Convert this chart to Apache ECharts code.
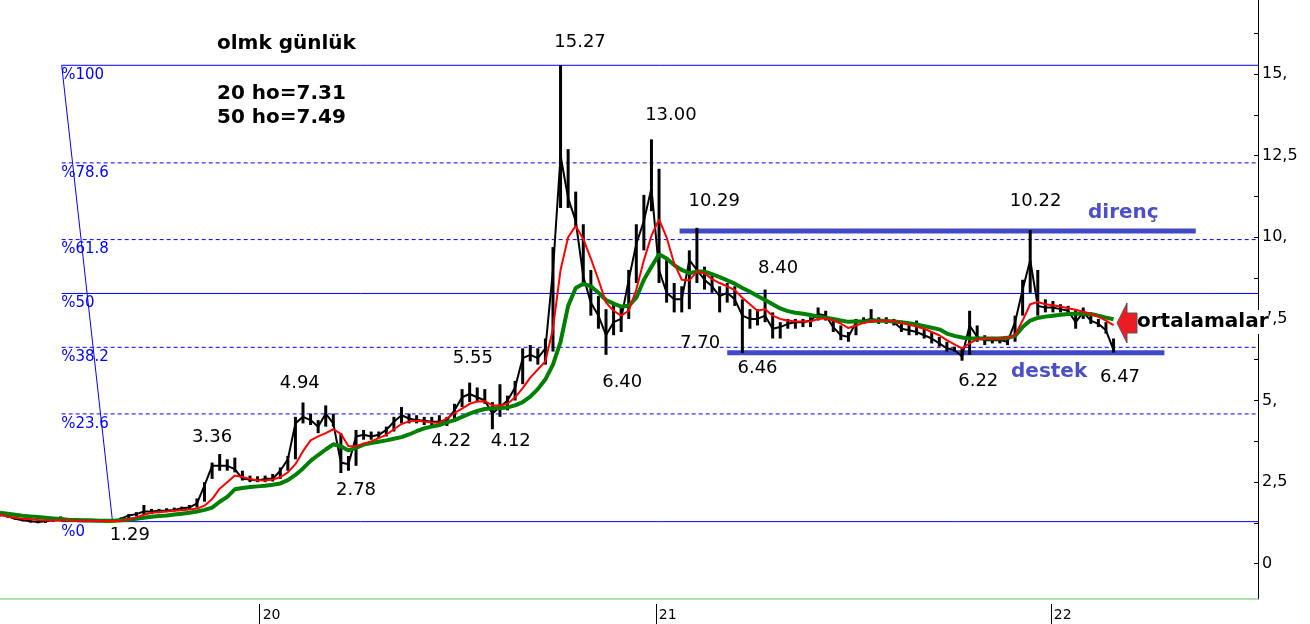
<!DOCTYPE html>
<html>
<head>
<meta charset="utf-8">
<script src="https://cdn.jsdelivr.net/npm/echarts@6/dist/echarts.min.js"></script>
<style>html,body{margin:0;padding:0;background:#fff}#c{width:1310px;height:624px}</style>
</head>
<body>
<div id="c"></div>
<script>
// ---- weekly bars (first week starts at startDate, one bar per week) ----
const startDate = '2019-05-06';
const axisEnd = '2022-07-11T12:00:00Z';

const high = [
1.55,1.52,1.45,1.40,1.38,1.35,1.35,1.38,1.45,1.36,
1.35,1.34,1.34,1.33,1.33,1.32,1.42,1.52,1.58,1.80,
1.68,1.68,1.70,1.72,1.75,1.80,2.00,2.50,3.10,3.36,
3.20,3.25,2.85,2.70,2.68,2.70,2.75,2.95,3.30,4.50,
4.94,4.60,4.40,4.85,4.60,4.00,3.30,4.10,4.10,4.05,
4.05,4.20,4.50,4.80,4.60,4.55,4.50,4.50,4.55,4.50,
4.90,5.35,5.55,5.40,5.35,4.95,5.50,5.15,5.60,6.60,
6.70,6.60,6.90,9.70,15.27,12.70,11.40,10.40,9.00,8.20,
7.80,8.00,7.90,9.00,10.40,11.30,13.00,12.10,9.40,8.60,
8.50,9.60,10.29,9.10,8.90,8.50,8.60,8.50,8.10,7.80,
7.80,8.40,7.70,7.40,7.50,7.50,7.50,7.55,7.85,7.75,
7.45,7.30,7.10,7.50,7.55,7.80,7.55,7.55,7.50,7.40,
7.35,7.45,7.20,7.10,6.95,6.80,6.65,6.60,7.75,7.30,
7.00,6.95,6.95,6.95,7.60,8.70,10.22,9.00,8.10,8.05,
7.95,7.90,7.80,7.85,7.60,7.50,7.40,6.90
];
const low = [
1.45,1.42,1.35,1.30,1.26,1.24,1.25,1.28,1.30,1.28,
1.28,1.28,1.28,1.28,1.28,1.29,1.30,1.38,1.45,1.50,
1.52,1.55,1.58,1.60,1.62,1.65,1.72,1.90,2.60,2.85,
2.85,2.80,2.55,2.50,2.50,2.50,2.52,2.60,2.85,3.20,
4.30,4.25,4.00,4.20,4.20,2.78,2.85,3.00,3.80,3.80,
3.85,3.90,4.05,4.30,4.30,4.30,4.25,4.25,4.22,4.22,
4.35,4.80,4.95,4.95,4.90,4.12,4.50,4.70,5.00,5.50,
6.20,6.10,6.10,6.50,10.90,10.90,10.30,8.50,7.60,7.20,
6.40,7.00,7.10,7.50,8.60,9.60,10.80,8.60,8.00,7.70,
7.70,7.80,8.60,8.40,8.30,7.70,8.00,7.90,6.46,7.20,
7.30,7.40,6.90,6.90,7.20,7.20,7.25,7.25,7.45,7.45,
7.10,6.85,6.80,7.00,7.35,7.40,7.35,7.35,7.30,7.10,
7.00,7.00,6.90,6.75,6.65,6.50,6.50,6.22,6.40,6.80,
6.70,6.75,6.75,6.70,6.80,7.60,8.30,7.60,7.70,7.70,
7.70,7.65,7.20,7.50,7.35,7.25,7.05,6.47
];
const close = [
1.50,1.45,1.38,1.33,1.30,1.28,1.30,1.33,1.33,1.32,
1.31,1.30,1.31,1.30,1.30,1.30,1.38,1.48,1.52,1.60,
1.60,1.62,1.63,1.65,1.70,1.72,1.85,2.40,3.00,3.00,
3.00,2.90,2.60,2.58,2.55,2.60,2.60,2.85,3.20,4.30,
4.50,4.40,4.20,4.60,4.30,3.10,3.05,3.90,3.95,3.90,
3.95,4.10,4.35,4.55,4.45,4.40,4.38,4.35,4.35,4.40,
4.70,5.10,5.20,5.10,5.00,4.60,4.80,5.00,5.40,6.30,
6.40,6.30,6.60,9.00,12.50,11.20,10.50,8.80,8.00,7.60,
7.00,7.40,7.50,8.70,9.80,10.50,11.50,9.00,8.30,8.10,
8.10,9.30,9.00,8.70,8.50,8.20,8.30,8.10,7.60,7.50,
7.50,7.60,7.20,7.25,7.35,7.40,7.40,7.45,7.65,7.60,
7.25,7.00,6.95,7.40,7.45,7.50,7.45,7.45,7.40,7.20,
7.15,7.10,7.00,6.90,6.75,6.60,6.55,6.35,7.30,6.95,
6.85,6.85,6.85,6.80,7.40,8.40,9.30,7.90,7.85,7.85,
7.80,7.75,7.40,7.70,7.45,7.35,7.15,6.55
];
const ma20 = [
1.50,1.45,1.41,1.38,1.36,1.34,1.33,1.32,1.33,1.33,
1.32,1.32,1.31,1.31,1.31,1.31,1.32,1.36,1.42,1.50,
1.56,1.58,1.60,1.62,1.64,1.66,1.69,1.78,1.98,2.30,
2.50,2.70,2.66,2.60,2.56,2.55,2.58,2.65,2.80,3.05,
3.45,3.78,3.90,4.00,4.12,3.98,3.60,3.60,3.68,3.75,
3.85,3.95,4.12,4.28,4.36,4.38,4.36,4.33,4.32,4.45,
4.62,4.75,4.90,4.97,4.98,4.85,4.85,4.90,5.10,5.38,
5.70,5.95,6.20,7.20,9.00,10.00,10.35,9.95,9.35,8.70,
8.00,7.75,7.60,7.75,8.40,9.30,10.05,10.55,10.00,9.20,
8.70,8.68,8.95,8.90,8.72,8.60,8.50,8.38,8.15,7.95,
7.75,7.80,7.60,7.50,7.45,7.42,7.42,7.42,7.50,7.52,
7.45,7.36,7.22,7.30,7.38,7.42,7.45,7.45,7.42,7.38,
7.32,7.27,7.20,7.10,7.00,6.85,6.72,6.60,6.75,6.88,
6.90,6.90,6.90,6.92,7.00,7.45,7.95,8.02,7.95,7.92,
7.88,7.83,7.78,7.72,7.65,7.57,7.45,7.31
];
const ma50 = [
1.56,1.53,1.50,1.47,1.45,1.43,1.41,1.39,1.37,1.35,
1.34,1.33,1.33,1.32,1.32,1.32,1.33,1.35,1.38,1.41,
1.44,1.46,1.48,1.51,1.53,1.56,1.60,1.65,1.72,1.90,
2.05,2.28,2.32,2.35,2.37,2.39,2.42,2.46,2.56,2.72,
2.92,3.15,3.33,3.50,3.66,3.60,3.47,3.55,3.65,3.70,
3.74,3.78,3.83,3.88,3.96,4.06,4.15,4.20,4.25,4.33,
4.40,4.50,4.60,4.68,4.74,4.76,4.77,4.79,4.85,4.95,
5.12,5.35,5.65,6.10,6.80,7.90,8.45,8.58,8.50,8.30,
8.08,7.97,7.88,7.90,8.15,8.70,9.10,9.48,9.35,9.15,
9.00,8.90,8.95,8.95,8.87,8.78,8.68,8.58,8.45,8.33,
8.20,8.08,7.95,7.82,7.74,7.69,7.66,7.62,7.57,7.54,
7.50,7.45,7.41,7.42,7.42,7.44,7.45,7.44,7.42,7.40,
7.37,7.33,7.28,7.23,7.18,7.05,6.98,6.93,6.90,6.90,
6.90,6.90,6.90,6.92,6.98,7.25,7.45,7.53,7.57,7.60,
7.63,7.65,7.66,7.66,7.65,7.60,7.54,7.49
];

// ---- axis ticks ----
const yearTicks = ['2020-01-01','2021-01-01','2022-01-01'];
const yearLabels = ['20','21','22'];
const yTicks = [0,2.5,5,7.5,10,12.5,15,17.5];
const yTickLabels = ['0','2,5','5,','7,5','10,','12,5','15,','17,5'];
const yMinorTicks = [0,1.25,2.5,3.75,5,6.25,7.5,8.75,10,11.25,12.5,13.75,15,16.25];

// ---- Fibonacci retracement ----
const fibStart = '2019-07-02';
const fibLowDate = '2019-08-18';
const fibLevels = [15.27,12.28,9.93,8.28,6.63,4.59,1.29];
const fibNames = ['%100','%78.6','%61.8','%50','%38.2','%23.6','%0'];
const fibDashed = [false,true,true,false,true,true,false];

// ---- support / resistance ----
const resistance = ['2021-01-23','2022-05-15',10.19];
const support = ['2021-03-08','2022-04-16',6.46];
const lowMarker = ['2019-08-09','2019-08-23',1.29];

// ---- price annotations [date, value, text] ----
const priceLabels = [
['2020-10-23',15.98,'15.27'],
['2021-01-15',13.74,'13.00'],
['2021-02-24',11.11,'10.29'],
['2021-12-18',11.11,'10.22'],
['2021-04-24',9.06,'8.40'],
['2021-02-11',6.76,'7.70'],
['2021-04-05',6.00,'6.46'],
['2020-12-01',5.57,'6.40'],
['2021-10-26',5.60,'6.22'],
['2022-03-06',5.72,'6.47'],
['2020-07-16',6.30,'5.55'],
['2020-02-07',5.54,'4.94'],
['2019-11-18',3.88,'3.36'],
['2020-06-26',3.76,'4.22'],
['2020-08-20',3.76,'4.12'],
['2020-03-30',2.26,'2.78'],
['2019-09-03',0.88,'1.29']
];

const DAY = 86400000;
const D = s => Date.parse(s.length > 10 ? s : s + 'T00:00:00Z');
const T0 = D(startDate);
const TEND = D(axisEnd);
const dates = high.map((_, i) => T0 + i * 7 * DAY);
const yearTimes = yearTicks.map(D);
const FONT = 'DejaVu Sans';
const BLUE = '#0000ff';
const SR = '#4249c6';

function segment(name, p1, p2, color, width, type, z) {
  return { type: 'line', name: name, silent: true, symbol: 'none', z: z || 1,
           data: [p1, p2], lineStyle: { color: color, width: width, type: type },
           itemStyle: { color: color }, emphasis: { disabled: true } };
}

const fibSeries = fibLevels.map((lv, i) => {
  const s = segment('fib' + i, [D(fibStart), lv], [TEND, lv], BLUE, 1, fibDashed[i] ? [4, 3] : 'solid', 1);
  s.markPoint = { silent: true, animation: false,
    data: [{ coord: [D(fibStart), lv], symbol: 'rect', symbolSize: 1, itemStyle: { color: 'rgba(0,0,0,0)' },
      label: { show: true, position: 'right', distance: 0, offset: [-1, 10], formatter: fibNames[i],
               color: BLUE, fontSize: 15, fontFamily: FONT } }] };
  return s;
});

const extraSeries = [
  segment('fibDiag', [D(fibStart), fibLevels[0]], [D(fibLowDate), fibLevels[6]], BLUE, 1, 'solid', 1),
  segment('direnc', [D(resistance[0]), resistance[2]], [D(resistance[1]), resistance[2]], SR, 5, 'solid', 1),
  segment('destek', [D(support[0]), support[2]], [D(support[1]), support[2]], SR, 5, 'solid', 1),
  segment('lowMark', [D(lowMarker[0]), lowMarker[2]], [D(lowMarker[1]), lowMarker[2]], '#ffee00', 3, 'solid', 1)
];

const chart = echarts.init(document.getElementById('c'));
chart.setOption({
  animation: false,
  backgroundColor: '#fff',
  grid: { left: 0, right: 52, top: 0, bottom: 25 },
  xAxis: [
    { type: 'value', min: T0, max: TEND, scale: true,
      axisLine: { show: true, onZero: false, lineStyle: { color: '#93d893', width: 1.5 } },
      axisTick: { show: false }, axisLabel: { show: false }, splitLine: { show: false } },
    { type: 'value', min: T0, max: TEND, scale: true, position: 'bottom', offset: 5,
      axisLine: { show: false, onZero: false },
      axisTick: { show: true, customValues: yearTimes, length: 20, lineStyle: { color: '#000', width: 1 } },
      axisLabel: { show: true, customValues: yearTimes, align: 'left', margin: 4, padding: [0, 0, 0, 3],
        color: '#000', fontSize: 14, fontFamily: FONT,
        formatter: v => { const k = yearTimes.findIndex(t => Math.abs(t - v) < DAY); return k >= 0 ? yearLabels[k] : ''; } },
      splitLine: { show: false } }
  ],
  yAxis: {
    type: 'value', position: 'right', min: -1.08, max: 17.27,
    axisLine: { show: true, lineStyle: { color: '#000', width: 1 } },
    axisTick: { show: true, inside: true, length: 4, customValues: yMinorTicks, lineStyle: { color: '#000' } },
    axisLabel: { customValues: yTicks, margin: 4, color: '#000', fontSize: 16, fontFamily: FONT,
      formatter: v => { const k = yTicks.findIndex(t => Math.abs(t - v) < 1e-6); return k >= 0 ? yTickLabels[k] : ''; } },
    splitLine: { show: false }
  },
  series: fibSeries.concat(extraSeries).concat([
    { type: 'custom', name: 'bars', clip: true, silent: true, z: 2,
      data: dates.map((t, i) => [t, high[i], low[i]]),
      encode: { x: 0, y: [1, 2] },
      renderItem: (params, api) => {
        const a = api.coord([api.value(0), api.value(1)]);
        const b = api.coord([api.value(0), api.value(2)]);
        return { type: 'line', shape: { x1: a[0], y1: a[1], x2: b[0], y2: b[1] },
                 style: { stroke: '#000', lineWidth: 3 } };
      } },
    { type: 'line', name: 'close', silent: true, symbol: 'none', z: 2,
      data: dates.map((t, i) => [t, close[i]]),
      lineStyle: { color: '#000', width: 2 },
      markPoint: { silent: true, animation: false,
        data: priceLabels.map(p => ({ coord: [D(p[0]), p[1]], name: p[2], symbol: 'rect', symbolSize: 1,
          itemStyle: { color: 'rgba(0,0,0,0)' },
          label: { show: true, position: 'inside', formatter: p[2], color: '#000', fontSize: 18, fontFamily: FONT } })) } },
    { type: 'line', name: '50 ho', silent: true, symbol: 'none', z: 3,
      data: dates.map((t, i) => [t, ma50[i]]),
      lineStyle: { color: '#008000', width: 4 } },
    { type: 'line', name: '20 ho', silent: true, symbol: 'none', z: 3,
      data: dates.map((t, i) => [t, ma20[i]]),
      lineStyle: { color: '#ff0000', width: 2 } }
  ]),
  graphic: [
    { type: 'text', x: 217, y: 44, z: 100, style: { text: 'olmk günlük', font: 'bold 20px "DejaVu Sans"', fill: '#000', verticalAlign: 'middle' } },
    { type: 'text', x: 217, y: 94, z: 100, style: { text: '20 ho=7.31', font: 'bold 20px "DejaVu Sans"', fill: '#000', verticalAlign: 'middle' } },
    { type: 'text', x: 217, y: 118, z: 100, style: { text: '50 ho=7.49', font: 'bold 20px "DejaVu Sans"', fill: '#000', verticalAlign: 'middle' } },
    { type: 'text', x: 1088, y: 213, z: 100, style: { text: 'direnç', font: 'bold 20px "DejaVu Sans"', fill: '#4a50c8', verticalAlign: 'middle' } },
    { type: 'text', x: 1011, y: 372, z: 100, style: { text: 'destek', font: 'bold 20px "DejaVu Sans"', fill: '#4a50c8', verticalAlign: 'middle' } },
    { type: 'text', x: 1137, y: 322, z: 100, style: { text: 'ortalamalar', font: 'bold 20px "DejaVu Sans"', fill: '#000', verticalAlign: 'middle', backgroundColor: '#fff', padding: [2, 0, 2, 0] } },
    { type: 'polygon', z: 100, shape: { points: [[1117,323],[1127,303],[1127,313],[1137,313],[1137,333],[1127,333],[1127,343]] },
      style: { fill: '#ed1c24', stroke: '#555', lineWidth: 1 } }
  ]
});
</script>
</body>
</html>
